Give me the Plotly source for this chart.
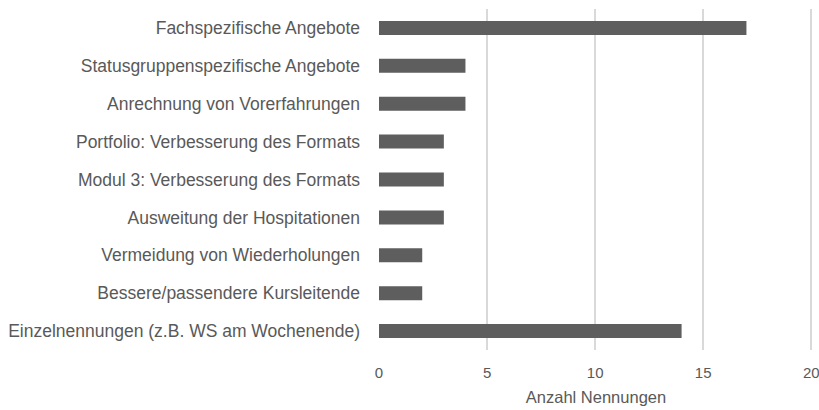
import plotly.graph_objects as go

categories = [
    "Fachspezifische Angebote",
    "Statusgruppenspezifische Angebote",
    "Anrechnung von Vorerfahrungen",
    "Portfolio: Verbesserung des Formats",
    "Modul 3: Verbesserung des Formats",
    "Ausweitung der Hospitationen",
    "Vermeidung von Wiederholungen",
    "Bessere/passendere Kursleitende",
    "Einzelnennungen (z.B. WS am Wochenende)",
]
values = [17, 4, 4, 3, 3, 3, 2, 2, 14]
x_ticks = [0, 5, 10, 15, 20]
x_title = "Anzahl Nennungen"

fig = go.Figure(go.Bar(
    x=values, y=categories, orientation="h",
    marker=dict(color="#5e5e5e", line=dict(width=0)),
))
fig.update_layout(
    width=819, height=410,
    margin=dict(l=379, r=6, t=9, b=60, autoexpand=False),
    paper_bgcolor="white", plot_bgcolor="white",
    bargap=0.63,
    font=dict(family="Liberation Sans, Arial, sans-serif", color="#595959", size=16),
    showlegend=False,
)
fig.update_xaxes(
    range=[0, 20.08], tickvals=x_ticks, showgrid=True, gridcolor="#d9d9d9", gridwidth=1.5,
    zeroline=False, showline=False, ticks="", automargin=False,
    ticklabelstandoff=12, ticklabeloverflow="allow",
    tickfont=dict(size=15), title=dict(text=x_title, font=dict(size=16.5), standoff=11),
)
fig.update_yaxes(
    autorange="reversed", showgrid=False, showline=False, ticks="",
    ticklabelstandoff=18, tickfont=dict(size=17.5),
)
fig.write_html(
    "out.html",
    config={"displayModeBar": False},
    post_script="document.body.style.margin='0';document.body.style.overflow='hidden';",
)
